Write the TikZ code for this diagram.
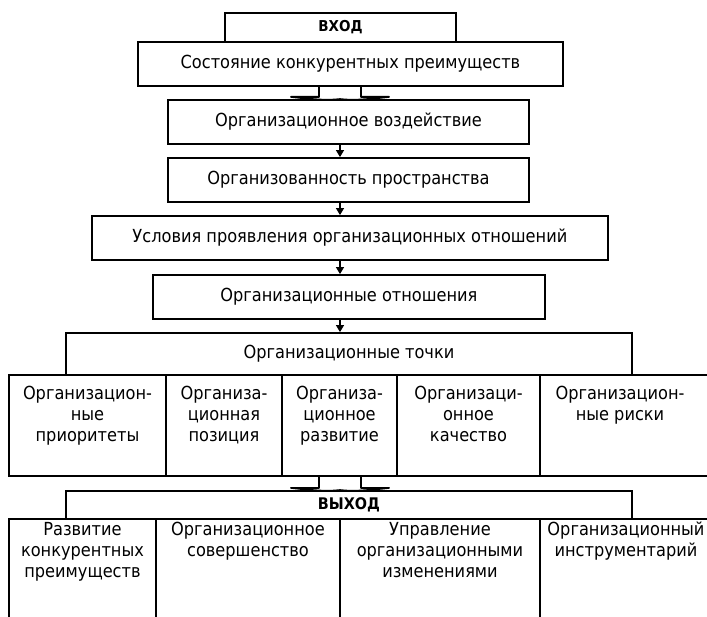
\documentclass[tikz,border=0pt]{standalone}
\usepackage{fontspec}
\setmainfont{DejaVu Sans Condensed}
\usetikzlibrary{arrows.meta,calc}
\begin{document}
\begin{tikzpicture}[x=1pt,y=-1pt]
  \tikzstyle{every node}+=[inner sep=0pt, font=\fontsize{18}{21}\selectfont]
  \tikzstyle{box}=[draw, line width=1.8pt, minimum height=44pt]
  \tikzstyle{cell}=[draw, line width=1.8pt]
  \tikzstyle{lbl}=[anchor=north, align=center]
  \tikzstyle{link}=[line width=1.2pt, -{Triangle[length=7pt,width=8pt]}]
  \tikzstyle{block}=[line width=1.8pt, line join=round]
  \useasboundingbox (0,0) rectangle (707,617);
  \coordinate (axis) at (340,0);
  \node [box, minimum width=231pt, minimum height=29pt, font=\fontsize{15}{17}\selectfont\bfseries] (vhod) at (340.5,27.5) {ВХОД};
  \node [box, minimum width=425pt] (sost) at (350.5,64) {Состояние конкурентных преимуществ};
  \node [box, minimum width=361pt] (vozd) at (348.5,122) {Организационное воздействие};
  \node [box, minimum width=361pt] (prostr) at (348.5,180) {Организованность пространства};
  \node [box, minimum width=516pt] (usl) at (350,238) {Условия проявления организационных отношений};
  \node [box, minimum width=392pt] (otn) at (349,297) {Организационные отношения};
  \node [box, minimum width=566pt, minimum height=42pt] (tochki) at (349,354) {Организационные точки};
  \node [cell, minimum width=157pt, minimum height=101pt] (p1) at (87.5,425.5) {};
  \node [cell, minimum width=116pt, minimum height=101pt] (p2) at (224,425.5) {};
  \node [cell, minimum width=115pt, minimum height=101pt] (p3) at (339.5,425.5) {};
  \node [cell, minimum width=143pt, minimum height=101pt] (p4) at (468.5,425.5) {};
  \node [cell, minimum width=190pt, minimum height=101pt] (p5) at (635,425.5) {};
  \node [lbl, yshift=-12pt] (p1t) at (p1.north) {Организацион-\\ные\\приоритеты};
  \node [lbl, yshift=-12pt] (p2t) at (p2.north) {Организа-\\ционная\\позиция};
  \node [lbl, yshift=-12pt] (p3t) at (p3.north) {Организа-\\ционное\\развитие};
  \node [lbl, yshift=-12pt] (p4t) at (p4.north) {Организаци-\\онное\\качество};
  \node [lbl, yshift=-12pt, xshift=-15pt] (p5t) at (p5.north) {Организацион-\\ные риски};
  \node [box, minimum width=566pt, minimum height=28pt, font=\fontsize{16}{18}\selectfont\bfseries] (vyhod) at (349,505) {ВЫХОД};
  \node [cell, minimum width=147pt, minimum height=121pt] (r1) at (82.5,579.5) {};
  \node [cell, minimum width=184pt, minimum height=121pt] (r2) at (248,579.5) {};
  \node [cell, minimum width=200pt, minimum height=121pt] (r3) at (440,579.5) {};
  \node [cell, minimum width=190pt, minimum height=121pt] (r4) at (635,579.5) {};
  \node [lbl, yshift=-4pt] (r1t) at (r1.north) {Развитие\\конкурентных\\преимуществ};
  \node [lbl, yshift=-4pt] (r2t) at (r2.north) {Организационное\\совершенство};
  \node [lbl, yshift=-4pt] (r3t) at (r3.north) {Управление\\организационными\\изменениями};
  \node [lbl, yshift=-4pt, xshift=-9pt] (r4t) at (r4.north) {Организационный\\инструментарий};
  \coordinate (a1) at (sost.south -| axis);
  \draw [block] ($(a1)+(-21,0)$) -- ($(a1)+(-21,10)$) -- ($(a1)+(-49,10)$) .. controls ($(a1)+(-30,12)$) and ($(a1)+(-15,14)$) .. (vozd.north -| axis) .. controls ($(a1)+(15,14)$) and ($(a1)+(30,12)$) .. ($(a1)+(49,10)$) -- ($(a1)+(21,10)$) -- ($(a1)+(21,0)$);
  \coordinate (a2) at (p3.south -| axis);
  \draw [block] ($(a2)+(-21,0)$) -- ($(a2)+(-21,11)$) -- ($(a2)+(-49,11)$) .. controls ($(a2)+(-30,13)$) and ($(a2)+(-15,15)$) .. (vyhod.north -| axis) .. controls ($(a2)+(15,15)$) and ($(a2)+(30,13)$) .. ($(a2)+(49,11)$) -- ($(a2)+(21,11)$) -- ($(a2)+(21,0)$);
  \draw [link] (vozd.south -| axis) -- (prostr.north -| axis);
  \draw [link] (prostr.south -| axis) -- (usl.north -| axis);
  \draw [link] (usl.south -| axis) -- (otn.north -| axis);
  \draw [link] (otn.south -| axis) -- (tochki.north -| axis);
\end{tikzpicture}
\end{document}
